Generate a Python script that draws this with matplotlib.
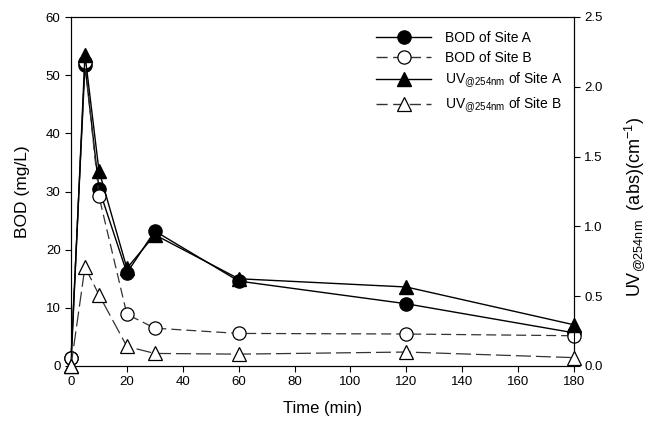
import matplotlib
matplotlib.use('Agg')
import matplotlib.pyplot as plt
from matplotlib.lines import Line2D

plt.rcParams['font.family'] = ['Liberation Sans', 'DejaVu Sans']
plt.rcParams['mathtext.fontset'] = 'custom'
plt.rcParams['mathtext.rm'] = 'Liberation Sans'

# time points (min)
time = [0, 5, 10, 20, 30, 60, 120, 180]

# BOD (mg/L)
bod_a = [1.3, 51.7, 30.5, 16.0, 23.2, 14.6, 10.7, 5.7]
bod_b = [1.3, 52.2, 29.2, 8.9, 6.5, 5.6, 5.5, 5.2]

# UV@254nm absorbance (cm-1)
uv_a = [0.0, 2.23, 1.40, 0.70, 0.94, 0.625, 0.566, 0.295]
uv_b = [0.0, 0.71, 0.51, 0.14, 0.09, 0.085, 0.10, 0.06]

fig = plt.figure(figsize=(6.48, 4.26), dpi=100)
ax = fig.add_axes([71 / 648, 60 / 426, 503 / 648, 349 / 426])
ax2 = ax.twinx()

ms = 9.5
dash_col = '#333333'
ax.plot(time, bod_a, color='black', lw=1, marker='o', ms=ms, mfc='black', mec='black', clip_on=False, zorder=3)
ax2.plot(time, uv_a, color='black', lw=1, marker='^', ms=ms, mfc='black', mec='black', clip_on=False, zorder=3)
ax.plot(time, bod_b, color=dash_col, lw=0.9, ls=(0, (8, 4)), marker='o', ms=ms, mfc='white', mec='black',
        mew=0.9, clip_on=False, zorder=4)
ax2.plot(time, uv_b, color=dash_col, lw=0.9, ls=(0, (12, 4)), marker='^', ms=ms, mfc='white', mec='black',
         mew=0.9, clip_on=False, zorder=4)

ax.set_xlim(0, 180)
ax.set_ylim(0, 60)
ax2.set_ylim(0, 2.5)
ax.set_xticks(range(0, 181, 20))
ax.set_yticks(range(0, 61, 10))
ax2.set_yticks([0.0, 0.5, 1.0, 1.5, 2.0, 2.5])
ax2.set_yticklabels(['0.0', '0.5', '1.0', '1.5', '2.0', '2.5'])

for a in (ax, ax2):
    a.tick_params(direction='out', length=4, width=0.8, labelsize=9.5)
    for s in a.spines.values():
        s.set_linewidth(0.8)

ax.set_xlabel('Time (min)', fontsize=12, labelpad=9)
ax.set_ylabel('BOD (mg/L)', fontsize=12.5, labelpad=11)
ax2.set_ylabel(r'UV$_{\mathregular{@254nm}}$  (abs)(cm$^{\mathregular{-1}}$)', fontsize=13)
ax2.yaxis.set_label_coords(1.095, 0.456)

handles = [
    Line2D([], [], color='black', lw=1, marker='o', ms=ms, mfc='black', mec='black'),
    Line2D([], [], color=dash_col, lw=1, ls=(0, (8, 4)), marker='o', ms=ms, mfc='white', mec='black', mew=0.9),
    Line2D([], [], color='black', lw=1, marker='^', ms=ms, mfc='black', mec='black'),
    Line2D([], [], color=dash_col, lw=1, ls=(0, (8, 4)), marker='^', ms=ms, mfc='white', mec='black', mew=0.9),
]
labels = ['BOD of Site A', 'BOD of Site B',
          r'UV$_{\mathregular{@254nm}}$ of Site A', r'UV$_{\mathregular{@254nm}}$ of Site B']
ax2.legend(handles, labels, loc='upper left', bbox_to_anchor=(0.595, 0.975), frameon=False,
           fontsize=10, handlelength=4.0, labelspacing=0.4, handletextpad=1.0, borderaxespad=0)

fig.savefig('out.png', dpi=100)
